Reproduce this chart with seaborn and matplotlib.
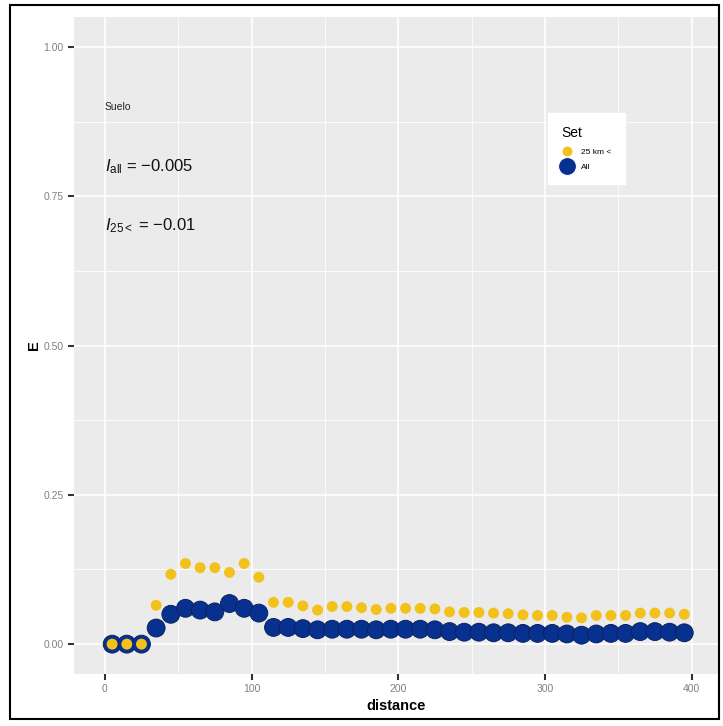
import numpy as np
import pandas as pd
import seaborn as sns
import matplotlib.pyplot as plt
from matplotlib.patches import Rectangle
from matplotlib.ticker import MultipleLocator

# datos
distance = list(range(5, 400, 10))  # 5,15,...,395
e_all = [0.0, 0.0, 0.0, 0.027, 0.050, 0.060, 0.057, 0.054, 0.068, 0.060,
         0.052, 0.028, 0.028, 0.026, 0.024, 0.025, 0.025, 0.025, 0.024, 0.025,
         0.025, 0.025, 0.024, 0.021, 0.020, 0.020, 0.019, 0.019, 0.018, 0.018,
         0.018, 0.017, 0.015, 0.017, 0.018, 0.018, 0.021, 0.021, 0.020, 0.019]
e_25 = [0.0, 0.0, 0.0, 0.065, 0.117, 0.135, 0.128, 0.128, 0.120, 0.135,
        0.112, 0.070, 0.070, 0.064, 0.057, 0.063, 0.063, 0.061, 0.058, 0.060,
        0.060, 0.060, 0.059, 0.054, 0.053, 0.053, 0.052, 0.051, 0.049, 0.048,
        0.048, 0.045, 0.044, 0.048, 0.048, 0.048, 0.052, 0.052, 0.052, 0.050]
set_order = ['25 km <', 'All']
colores = {'25 km <': '#F3C21A', 'All': '#08318F'}
tamanos = {'25 km <': 62, 'All': 165}

# All primero para que quede detras
df = pd.concat([
    pd.DataFrame({'distance': distance, 'E': e_all, 'Set': 'All'}),
    pd.DataFrame({'distance': distance, 'E': e_25, 'Set': '25 km <'}),
], ignore_index=True)
bordes = ['#0A2260' if s == 'All' else 'none' for s in df['Set']]

plt.rcParams['font.family'] = ['Liberation Sans', 'DejaVu Sans']
plt.rcParams['mathtext.fontset'] = 'custom'
plt.rcParams['mathtext.rm'] = 'Liberation Sans'
plt.rcParams['mathtext.it'] = 'Liberation Sans:italic'

fig = plt.figure(figsize=(7.23, 7.26), dpi=100)
ax = fig.add_axes([74/723, 52/726, 644/723, 657/726])
ax.set_facecolor('#EBEBEB')

sns.scatterplot(data=df, x='distance', y='E', hue='Set', size='Set',
                hue_order=set_order, size_order=set_order,
                palette=colores, sizes=tamanos, linewidth=0.7,
                ax=ax, zorder=3)
ax.collections[0].set_edgecolors(bordes)  # borde oscuro solo para All

ax.set_xlim(-21, 418)
ax.set_ylim(-0.05, 1.05)
ax.xaxis.set_major_locator(MultipleLocator(100))
ax.xaxis.set_minor_locator(MultipleLocator(50))
ax.yaxis.set_major_locator(MultipleLocator(0.25))
ax.yaxis.set_minor_locator(MultipleLocator(0.125))
ax.yaxis.set_major_formatter(plt.FormatStrFormatter('%.2f'))
ax.grid(which='major', color='white', linewidth=1.2, zorder=0)
ax.grid(which='minor', color='white', linewidth=0.6, zorder=0)
ax.set_axisbelow(True)
for s in ax.spines.values():
    s.set_visible(False)
ax.tick_params(which='major', length=4, width=1.5, color='#333333',
               labelsize=7.5, labelcolor='#808080')
ax.tick_params(which='minor', length=0)

ax.set_xlabel('distance', fontsize=10.5, fontweight='bold', labelpad=3)
ax.set_ylabel('E', fontsize=10.5, fontweight='bold', labelpad=2)

ax.text(0, 0.90, 'Suelo', fontsize=7.5, color='#222222', va='center')
ax.text(0, 0.80, r'$I_{\mathrm{all}}$ = $-$0.005', fontsize=12,
        color='#111111', va='center')
ax.text(0, 0.70, r'$I_{\mathrm{25<}}$ = $-$0.01', fontsize=12,
        color='#111111', va='center')

leg = ax.legend(title='Set', loc='upper left',
                bbox_to_anchor=(548/723, 1 - 113/726),
                bbox_transform=fig.transFigure, fontsize=6,
                title_fontsize=10, frameon=True, fancybox=False,
                framealpha=1, edgecolor='white', borderpad=1.6,
                handletextpad=1.0, labelspacing=0.9, handlelength=1.4,
                borderaxespad=0)
leg.get_frame().set_facecolor('white')
leg._legend_box.align = 'left'

# marco negro alrededor de la figura
fig.patches.append(Rectangle((10/723, 7/726), 709/723, 714/726,
                             transform=fig.transFigure, fill=False,
                             edgecolor='black', linewidth=1.5))

fig.savefig('out.png', dpi=100, facecolor='white')
